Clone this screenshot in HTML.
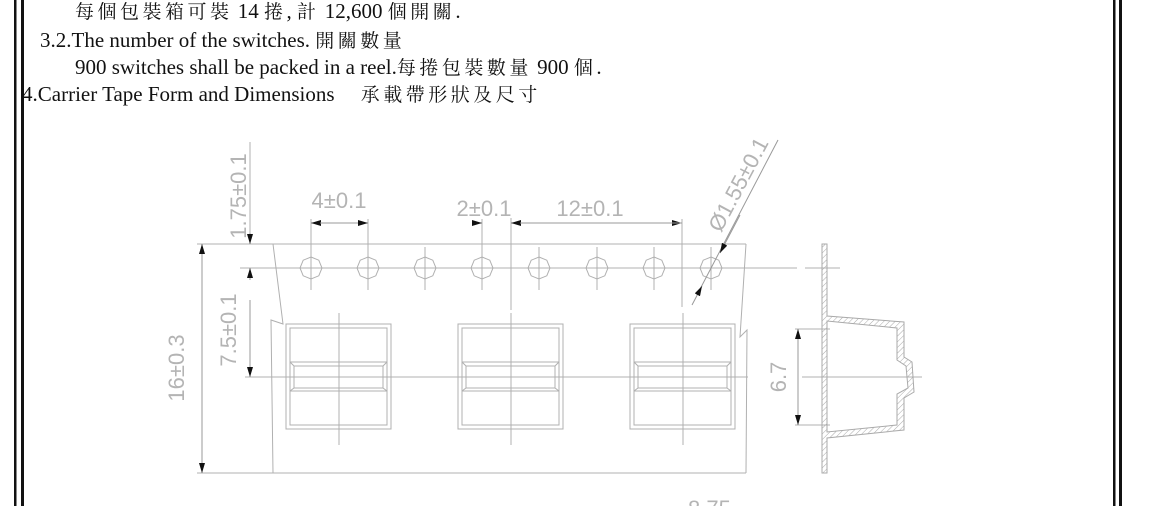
<!DOCTYPE html>
<html><head><meta charset="utf-8"><style>
html,body{margin:0;padding:0;background:#fff;}
svg{display:block;}
.t{font-family:"Liberation Serif","Noto Serif CJK TC","Noto Serif CJK SC",serif;font-size:21px;fill:#111;}
.c{font-size:19px;letter-spacing:3.5px;}
.d{font-family:"Liberation Sans","DejaVu Sans",sans-serif;font-size:22px;fill:#b4b4b4;}
.l{stroke:#b0b0b0;stroke-width:1;fill:none;}
</style></head><body>
<svg width="1150" height="506" viewBox="0 0 1150 506" xmlns="http://www.w3.org/2000/svg">
<defs>
<pattern id="h" width="4" height="4" patternUnits="userSpaceOnUse" patternTransform="rotate(45)">
<line x1="0" y1="0" x2="0" y2="4" stroke="#aaa" stroke-width="1"/>
</pattern>
<marker id="a" viewBox="0 0 10 6" refX="10" refY="3" markerWidth="10" markerHeight="6" orient="auto" markerUnits="userSpaceOnUse">
<path d="M0,0 L10,3 L0,6 z" fill="#111"/>
</marker>
</defs>
<rect x="14" y="0" width="2.5" height="506" fill="#111"/>
<rect x="21" y="0" width="3" height="506" fill="#111"/>
<rect x="1113" y="0" width="2.5" height="506" fill="#111"/>
<rect x="1119" y="0" width="3" height="506" fill="#111"/>

<text class="t" x="75" y="18"><tspan class="c">每個包裝箱可裝</tspan> 14 <tspan class="c">捲</tspan>, <tspan class="c">計</tspan> 12,600 <tspan class="c">個開關</tspan>.</text>
<text class="t" x="40" y="47">3.2.The number of the switches.  <tspan class="c">開關數量</tspan></text>
<text class="t" x="75" y="74">900 switches shall be packed in a reel.<tspan class="c">每捲包裝數量</tspan> 900 <tspan class="c">個</tspan>.</text>
<text class="t" x="22" y="101">4.Carrier Tape Form and Dimensions　 <tspan class="c">承載帶形狀及尺寸</tspan></text>

<g class="l">
<line x1="197" y1="244" x2="746" y2="244"/>
<line x1="197" y1="473" x2="746" y2="473"/>
<polyline points="273,244 283,324 271,320 273,473"/>
<polyline points="746,244 740,337 747,330 746,473"/>
<line x1="240" y1="268" x2="797" y2="268"/>
<line x1="805" y1="268" x2="840" y2="268"/>
<line x1="245" y1="377" x2="748" y2="377"/>
<line x1="802" y1="377" x2="922" y2="377"/>
</g>
<g class="l">
<g id="hole"><polygon points="311,257 318.8,260.2 322,268 318.8,275.8 311,279 303.2,275.8 300,268 303.2,260.2"/><line x1="311" y1="247" x2="311" y2="290"/></g>
<use href="#hole" x="57"/><use href="#hole" x="114"/><use href="#hole" x="171"/><use href="#hole" x="228"/><use href="#hole" x="286"/><use href="#hole" x="343"/><use href="#hole" x="400"/>
</g>
<g class="l" id="pk">
<rect x="286" y="324" width="105" height="105"/>
<rect x="290" y="328" width="97" height="97"/>
<line x1="290" y1="362" x2="387" y2="362"/>
<line x1="290" y1="391" x2="387" y2="391"/>
<polygon points="290,362 294,366 383,366 387,362 387,391 383,388 294,388 290,391"/>
<line x1="294" y1="366" x2="294" y2="388"/><line x1="383" y1="366" x2="383" y2="388"/>
<line x1="339" y1="313" x2="339" y2="445"/>
</g>
<use href="#pk" x="172"/>
<use href="#pk" x="344"/>
<g class="l">
<line x1="311" y1="219" x2="311" y2="247"/>
<line x1="368" y1="219" x2="368" y2="247"/>
<line x1="482" y1="219" x2="482" y2="247"/>
<line x1="511" y1="218" x2="511" y2="310"/>
<line x1="682" y1="219" x2="682" y2="307"/>
<line x1="250" y1="142" x2="250" y2="244"/>
<line x1="795" y1="329" x2="830" y2="329"/>
<line x1="795" y1="425" x2="830" y2="425"/>
</g>
<g stroke="#999" stroke-width="1" fill="none">
<line x1="320" y1="223" x2="311" y2="223" marker-end="url(#a)"/>
<line x1="320" y1="223" x2="368" y2="223" marker-end="url(#a)"/>
<line x1="474" y1="223" x2="482" y2="223" marker-end="url(#a)"/>
<line x1="520" y1="223" x2="511" y2="223" marker-end="url(#a)"/>
<line x1="600" y1="223" x2="682" y2="223" marker-end="url(#a)"/>
<line x1="520" y1="223" x2="682" y2="223"/>
<line x1="202" y1="300" x2="202" y2="244" marker-end="url(#a)"/>
<line x1="202" y1="300" x2="202" y2="473" marker-end="url(#a)"/>
<line x1="250" y1="233" x2="250" y2="244" marker-end="url(#a)"/>
<line x1="250" y1="280" x2="250" y2="268" marker-end="url(#a)"/>
<line x1="250" y1="300" x2="250" y2="377" marker-end="url(#a)"/>
<line x1="798" y1="370" x2="798" y2="329" marker-end="url(#a)"/>
<line x1="798" y1="370" x2="798" y2="425" marker-end="url(#a)"/>
<line x1="778" y1="140" x2="698" y2="293"/>
<line x1="740" y1="215" x2="720" y2="253" marker-end="url(#a)"/>
<line x1="692" y1="305" x2="702" y2="286" marker-end="url(#a)"/>
</g>
<text class="d" x="339" y="208" text-anchor="middle">4±0.1</text>
<text class="d" x="484" y="216" text-anchor="middle">2±0.1</text>
<text class="d" x="590" y="216" text-anchor="middle">12±0.1</text>
<text class="d" transform="translate(246,196) rotate(-90)" text-anchor="middle">1.75±0.1</text>
<text class="d" transform="translate(236,330) rotate(-90)" text-anchor="middle">7.5±0.1</text>
<text class="d" transform="translate(184,368) rotate(-90)" text-anchor="middle">16±0.3</text>
<text class="d" transform="translate(786,377) rotate(-90)" text-anchor="middle">6.7</text>
<text class="d" transform="translate(745,188) rotate(-62)" text-anchor="middle">Ø1.55±0.1</text>
<text class="d" x="688" y="516">8.75</text>
<path d="M822,244 L827,244 L827,316 L904,322 L904,357 L912,362 L914,392 L904,398 L904,430 L827,438 L827,473 L822,473 Z M827,321 L897,328 L897,360 L906,366 L908,388 L897,394 L897,425 L827,432 Z" fill="url(#h)" fill-rule="evenodd" stroke="#aaa" stroke-width="1"/>
</svg>
</body></html>
